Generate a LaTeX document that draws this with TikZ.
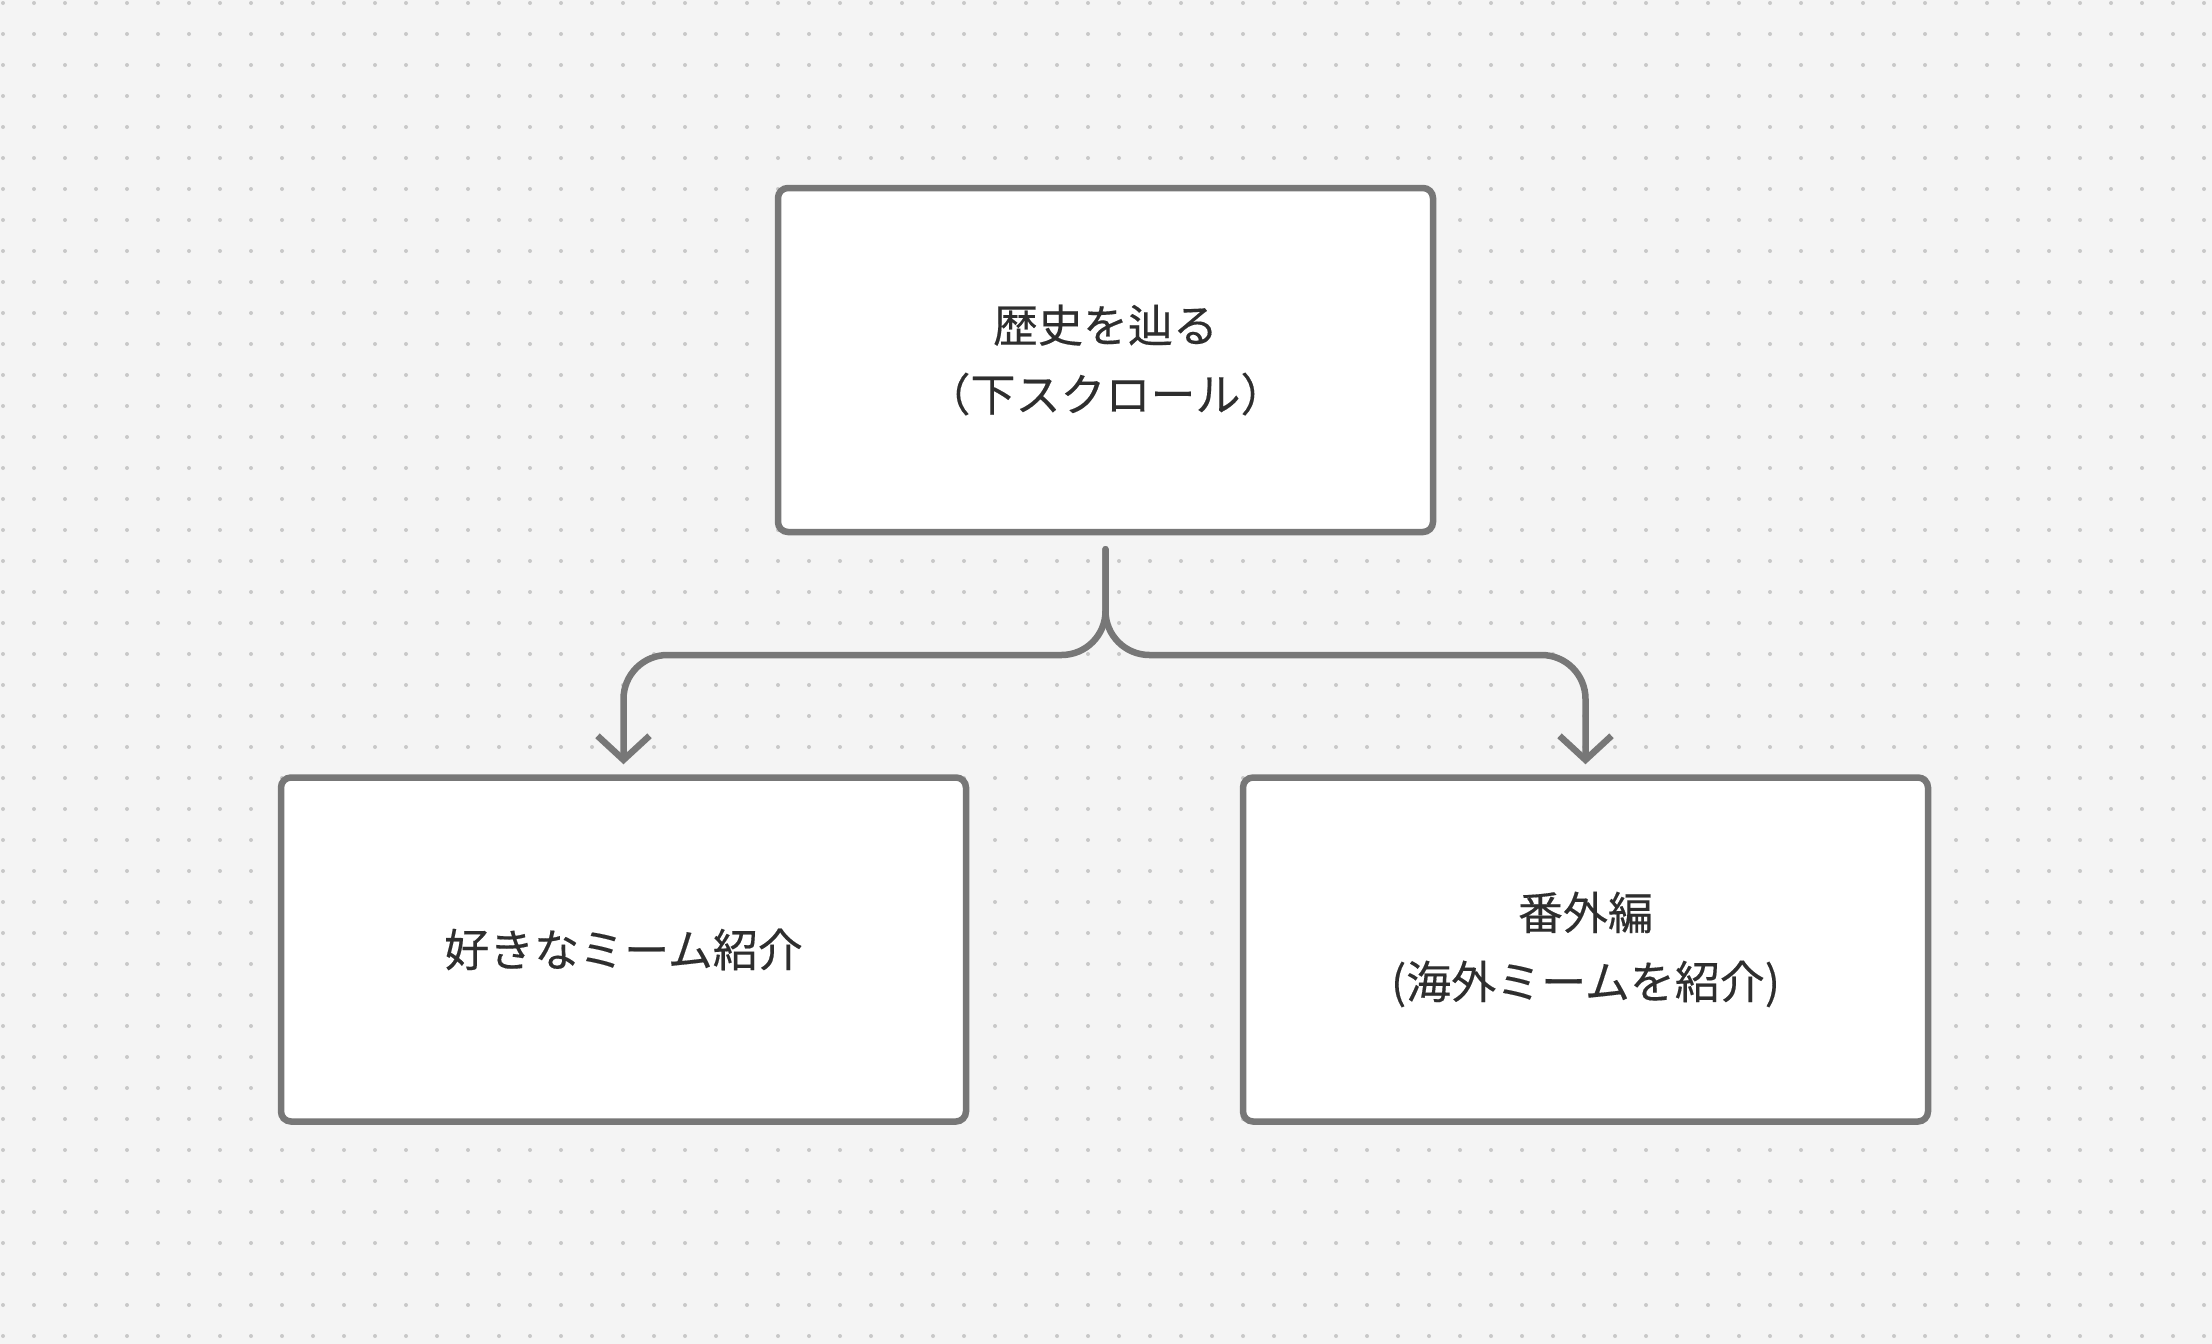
\documentclass[tikz,border=0pt]{standalone}
\usepackage{fontspec}
\usepackage{xcolor}
\usetikzlibrary{arrows.meta,positioning}
\newfontfamily\jpfont[FakeBold=0.3]{Noto Sans CJK JP}
\definecolor{bgcol}{HTML}{F4F4F4}
\definecolor{dotcol}{HTML}{C8C8C8}
\definecolor{edgecol}{HTML}{777777}
\definecolor{txtcol}{HTML}{2E2E2E}

\begin{document}
\begin{tikzpicture}[x=0.5pt,y=-0.5pt,>={Straight Barb[length=12pt,width=26pt]},
    box/.style={draw=edgecol,fill=white,line width=3.25pt,rounded corners=5pt,minimum width=327.5pt,minimum height=172pt,align=center,text=txtcol,font=\jpfont\fontsize{22.5}{34.5}\selectfont},
    wide box/.style={box,minimum width=342.5pt},
    link/.style={draw=edgecol,line width=3.25pt,line cap=round,rounded corners=22pt}]

            % dotted canvas
            \fill[bgcol] (0,0) rectangle (2212,1344);
            \foreach \i in {0,...,71}
                \foreach \j in {0,...,43}
                    \fill[dotcol] (3+31*\i,3+31*\j) circle (1pt);

            \node[box]  (top) at (1105.5,360) {歴史を辿る\\（下スクロール）};
            \node[wide box]  (left) at (623.5,949.5) {好きなミーム紹介};
            \node[wide box]  (right) at (1585.5,949.5) {番外編\\(海外ミームを紹介)};

            \coordinate (split) at (1105.5,655);

            \draw[link,->] ([yshift=-7pt]top.south) -- (split) -| ([yshift=5pt]left.north);
            \draw[link,->] ([yshift=-7pt]top.south) -- (split) -| ([yshift=5pt]right.north);
        \end{tikzpicture}
\end{document}
